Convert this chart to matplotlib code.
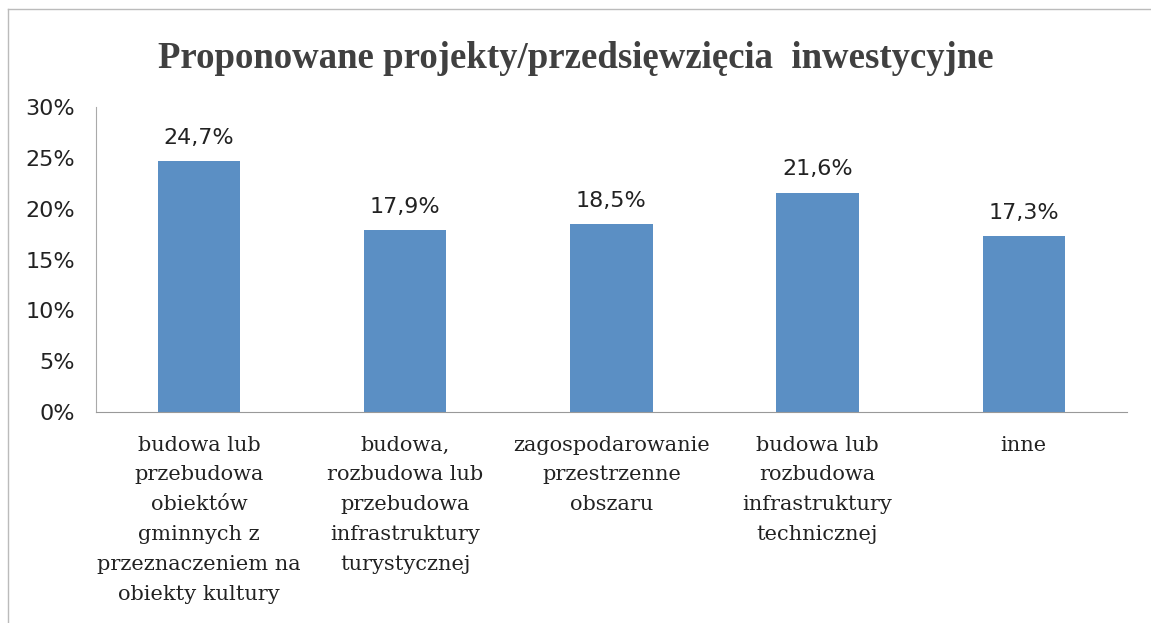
import matplotlib
matplotlib.use("Agg")
import matplotlib.pyplot as plt
from matplotlib.lines import Line2D

# dane z wykresu
categories = [
    "budowa lub\nprzebudowa\nobiektów\ngminnych z\nprzeznaczeniem na\nobiekty kultury",
    "budowa,\nrozbudowa lub\nprzebudowa\ninfrastruktury\nturystycznej",
    "zagospodarowanie\nprzestrzenne\nobszaru",
    "budowa lub\nrozbudowa\ninfrastruktury\ntechnicznej",
    "inne",
]
values = [24.7, 17.9, 18.5, 21.6, 17.3]
yticks = [0, 5, 10, 15, 20, 25, 30]
ytick_labels = ["0%", "5%", "10%", "15%", "20%", "25%", "30%"]
title = "Proponowane projekty/przedsięwzięcia  inwestycyjne"

fig = plt.figure(figsize=(11.51, 6.23), dpi=100)
ax = fig.add_axes([0.0834, 0.3387, 0.8956, 0.4893])

x = range(len(categories))
ax.bar(x, values, width=0.4, color="#5b8fc4")

for i, v in zip(x, values):
    ax.text(i, v + 1.3, f"{v:.1f}%".replace(".", ","), ha="center", va="bottom",
            fontsize=16, color="#222222", family="DejaVu Sans")

ax.set_xlim(-0.5, len(categories) - 0.5)
ax.set_ylim(0, 30)
ax.set_yticks(yticks)
ax.set_yticklabels(ytick_labels, fontsize=16, color="#222222", family="DejaVu Sans")
ax.set_xticks(list(x))
ax.set_xticklabels(categories, fontsize=15, color="#222222", family="DejaVu Serif",
                   linespacing=1.72, va="top")
ax.tick_params(axis="both", length=0)
ax.tick_params(axis="x", pad=17)
ax.tick_params(axis="y", pad=15)

for s in ["top", "right"]:
    ax.spines[s].set_visible(False)
ax.spines["left"].set_color("#aaaaaa")
ax.spines["bottom"].set_color("#999999")

fig.text(0.5, 0.906, title, ha="center", va="center", fontsize=26.5, fontweight="bold",
         color="#404040", family="Liberation Serif")

# ramka wykresu
fig.add_artist(Line2D([8 / 1151, 8 / 1151], [0, 1 - 9 / 623], color="#bbbbbb", lw=1))
fig.add_artist(Line2D([8 / 1151, 1], [1 - 9 / 623, 1 - 9 / 623], color="#bbbbbb", lw=1))

fig.savefig("out.png", dpi=100)
